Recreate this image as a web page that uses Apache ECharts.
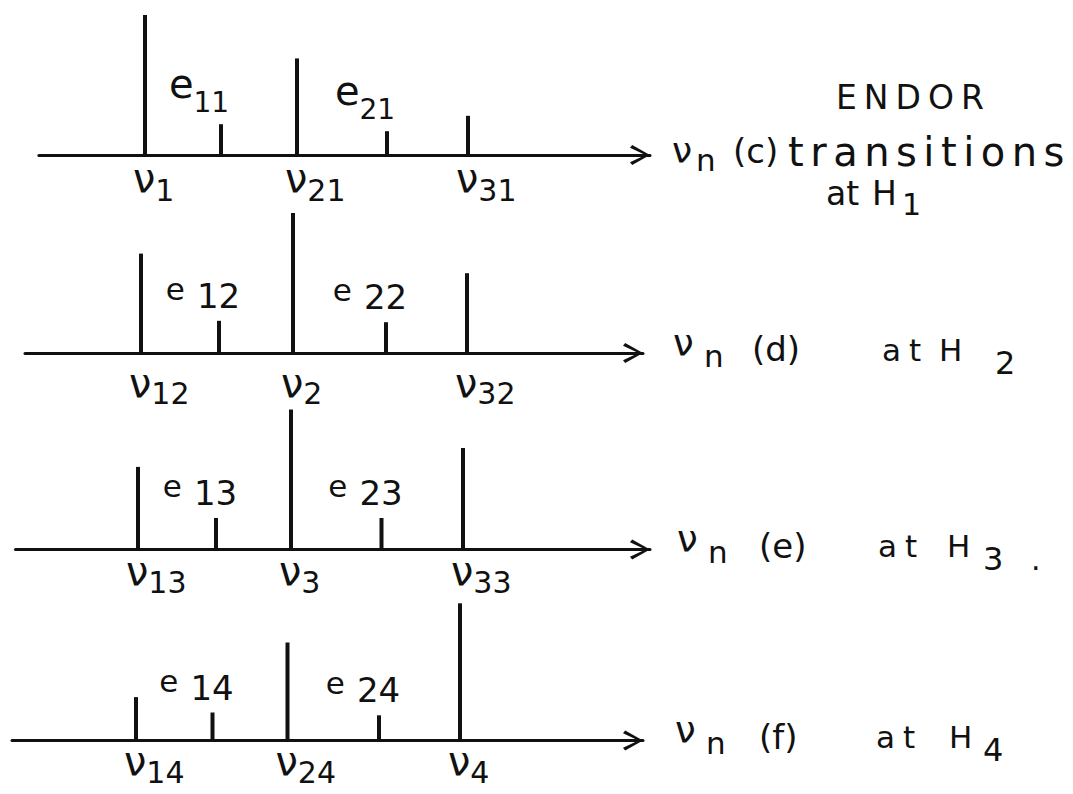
<!DOCTYPE html>
<html>
<head>
<meta charset="utf-8">
<script src="https://cdn.jsdelivr.net/npm/echarts@6/dist/echarts.min.js"></script>
<style>
  html, body { margin: 0; padding: 0; background: #fff; }
  #chart { width: 1073px; height: 794px; }
</style>
</head>
<body>
<div id="chart"></div>
<script>
// ENDOR stick spectra at four field positions H1..H4.
// Frequencies in arbitrary units, intensities relative (10 = strongest line).
const lineKinds = ['nu', 'e', 'nu', 'e', 'nu'];

const freqC = [14.5, 22.1, 29.7, 38.7, 46.8];
const ampC  = [10.0, 2.2, 6.9, 1.7, 2.8];
const subC  = ['1', '11', '21', '21', '31'];

const freqD = [14.1, 21.9, 29.3, 38.6, 46.7];
const ampD  = [7.1, 2.3, 10.0, 2.2, 5.7];
const subD  = ['12', '12', '2', '22', '32'];

const freqE = [13.8, 21.6, 29.1, 38.15, 46.3];
const ampE  = [5.9, 2.25, 10.0, 2.25, 7.25];
const subE  = ['13', '13', '3', '23', '33'];

const freqF = [13.6, 21.25, 28.75, 37.9, 46.0];
const ampF  = [3.1, 2.0, 7.0, 1.8, 9.8];
const subF  = ['14', '14', '24', '24', '4'];

const panelTags   = ['(c)', '(d)', '(e)', '(f)'];
const fieldSubs   = ['1', '2', '3', '4'];
const fieldSuffix = ['', '', '.', ''];

const panels = [
  { freq: freqC, amp: ampC, sub: subC },
  { freq: freqD, amp: ampD, sub: subD },
  { freq: freqE, amp: ampE, sub: subE },
  { freq: freqF, amp: ampF, sub: subF }
];

// ---- layout (pixels) ----
const PX = 10;              // px per frequency unit
const INTENSITY_MAX = 10;
const PANEL_H = 140;        // px for INTENSITY_MAX
const axisY     = [155, 353, 549.5, 740.5];
const lineStart = [38.9, 25, 15.5, 12];
const lineEnd   = [650, 643, 650, 643];
const nameStart = [672, 673, 677, 675];
const nuLabelDy = [8, 15, 6, 5];
const nuSubDrop = [12, 10, 12, 12];
// widths of the name pieces: ν, n, tag, "at", "H", subscript
const nameWidths = [
  [24, 37, 55],
  [31, 48, 130, 57, 56, 30],
  [31, 51, 119, 69, 36, 48],
  [31, 53, 117, 73, 34, 30]
];

const INK = '#111';
const FONT = '"DejaVu Sans", "Liberation Sans", sans-serif';
const ARROW = 'path://M10,0 L20,18 L17.4,20.2 L10,4.6 L2.6,20.2 L0,18 Z';

function tok(size, extra) {
  return Object.assign({ fontSize: size, fontFamily: FONT, color: INK, height: 30, verticalAlign: 'top' }, extra || {});
}

function nuLabel(i, sub) {
  return {
    show: true, position: 'bottom', distance: 0,
    align: 'left', verticalAlign: 'top',
    offset: [-12, nuLabelDy[i]],
    formatter: '{g|ν}{s|' + sub + '}',
    rich: {
      g: tok(40),
      s: tok(30, { padding: [nuSubDrop[i], 0, 0, 0] })
    }
  };
}

function eLabel(i, sub) {
  const first = i === 0;
  return {
    show: true, position: 'top', distance: first ? 7 : 10,
    offset: [first ? -22 : -16, 0],
    formatter: '{g|e}{s|' + sub + '}',
    rich: first
      ? { g: tok(40), s: tok(28, { padding: [18, 0, 0, 0] }) }
      : { g: tok(31, { padding: [0, 12, 0, 0] }), s: tok(34, { padding: [7, 0, 0, 0] }) }
  };
}

function axisName(i) {
  const w = nameWidths[i];
  let s = '{nu|ν}{n|n}{tag|' + panelTags[i] + '}';
  let rich;
  if (i === 0) {
    s += '{tr|transitions}';
    rich = {
      nu: tok(36, { width: w[0] }),
      n: tok(31, { width: w[1], padding: [10, 0, 0, 0] }),
      tag: tok(34, { width: w[2], padding: [1, 0, 0, 0] }),
      tr: tok(40, { padding: [2, 0, 0, 0] })
    };
  } else {
    s += '{at|at}{h|H}{s|' + fieldSubs[i] + '}';
    if (fieldSuffix[i]) s += '{dot|' + fieldSuffix[i] + '}';
    rich = {
      nu: tok(37, { width: w[0] }),
      n: tok(31, { width: w[1], padding: [12.5, 0, 0, 0] }),
      tag: tok(34, { width: w[2], padding: [6, 0, 0, 0] }),
      at: tok(31, { width: w[3], padding: [6.5, 0, 0, 0] }),
      h: tok(31, { width: w[4], padding: [6.5, 0, 0, 0] }),
      s: tok(32, { width: w[5], padding: [19.5, 0, 0, 0] }),
      dot: tok(30, { padding: [19.5, 0, 0, 0] })
    };
  }
  return { text: s, rich: rich };
}

const grids = [], xAxes = [], yAxes = [], series = [];
panels.forEach(function (p, i) {
  grids.push({
    left: lineStart[i], width: lineEnd[i] - lineStart[i],
    top: axisY[i] - PANEL_H, height: PANEL_H
  });
  const nm = axisName(i);
  xAxes.push({
    gridIndex: i, type: 'value', position: 'bottom',
    min: lineStart[i] / PX, max: lineEnd[i] / PX,
    axisLine: {
      show: true, onZero: false,
      symbol: ['none', ARROW], symbolSize: [20, 20], symbolOffset: [0, -10],
      lineStyle: { color: INK, width: 3 }
    },
    axisTick: { show: false }, axisLabel: { show: false }, splitLine: { show: false },
    name: nm.text, nameLocation: 'end', nameGap: nameStart[i] - lineEnd[i],
    nameTextStyle: { fontFamily: FONT, color: INK, align: 'left', verticalAlign: 'middle', rich: nm.rich }
  });
  yAxes.push({ gridIndex: i, type: 'value', min: 0, max: INTENSITY_MAX, show: false });
  series.push({
    type: 'bar', xAxisIndex: i, yAxisIndex: i,
    barWidth: 4, itemStyle: { color: INK },
    data: p.freq.map(function (f, j) {
      return {
        value: [f, p.amp[j]],
        label: lineKinds[j] === 'nu' ? nuLabel(i, p.sub[j]) : eLabel(i, p.sub[j])
      };
    })
  });
});

const chart = echarts.init(document.getElementById('chart'), null, { renderer: 'svg' });
chart.setOption({
  animation: false,
  backgroundColor: '#fff',
  textStyle: { fontFamily: FONT },
  grid: grids, xAxis: xAxes, yAxis: yAxes, series: series,
  graphic: [
    {
      type: 'text', x: 836, y: 97, silent: true,
      style: { text: 'ENDOR', fontSize: 33, fontFamily: FONT, fill: INK, align: 'left', verticalAlign: 'middle' }
    },
    {
      type: 'text', x: 826, y: 199, silent: true,
      style: {
        text: '{a|at}{h|H}{s|' + fieldSubs[0] + '}', align: 'left', verticalAlign: 'middle',
        rich: {
          a: { fontSize: 33, fontFamily: FONT, fill: INK, width: 46, height: 30, verticalAlign: 'top' },
          h: { fontSize: 33, fontFamily: FONT, fill: INK, width: 30, height: 30, verticalAlign: 'top' },
          s: { fontSize: 30, fontFamily: FONT, fill: INK, height: 30, verticalAlign: 'top', padding: [11.5, 0, 0, 0] }
        }
      }
    }
  ]
});

// hand-lettered words are widely spaced
const LETTER_SPACING = { transitions: 6.5, ENDOR: 7 };
function spaceLetters() {
  document.querySelectorAll('#chart text').forEach(function (t) {
    const txt = t.textContent;
    if (LETTER_SPACING[txt] != null) t.setAttribute('letter-spacing', LETTER_SPACING[txt]);
    if (txt === 'at' && parseFloat(getComputedStyle(t).fontSize) < 33) t.setAttribute('letter-spacing', 8);
  });
}
chart.on('finished', spaceLetters);
spaceLetters();
setTimeout(spaceLetters, 0);
</script>
</body>
</html>
